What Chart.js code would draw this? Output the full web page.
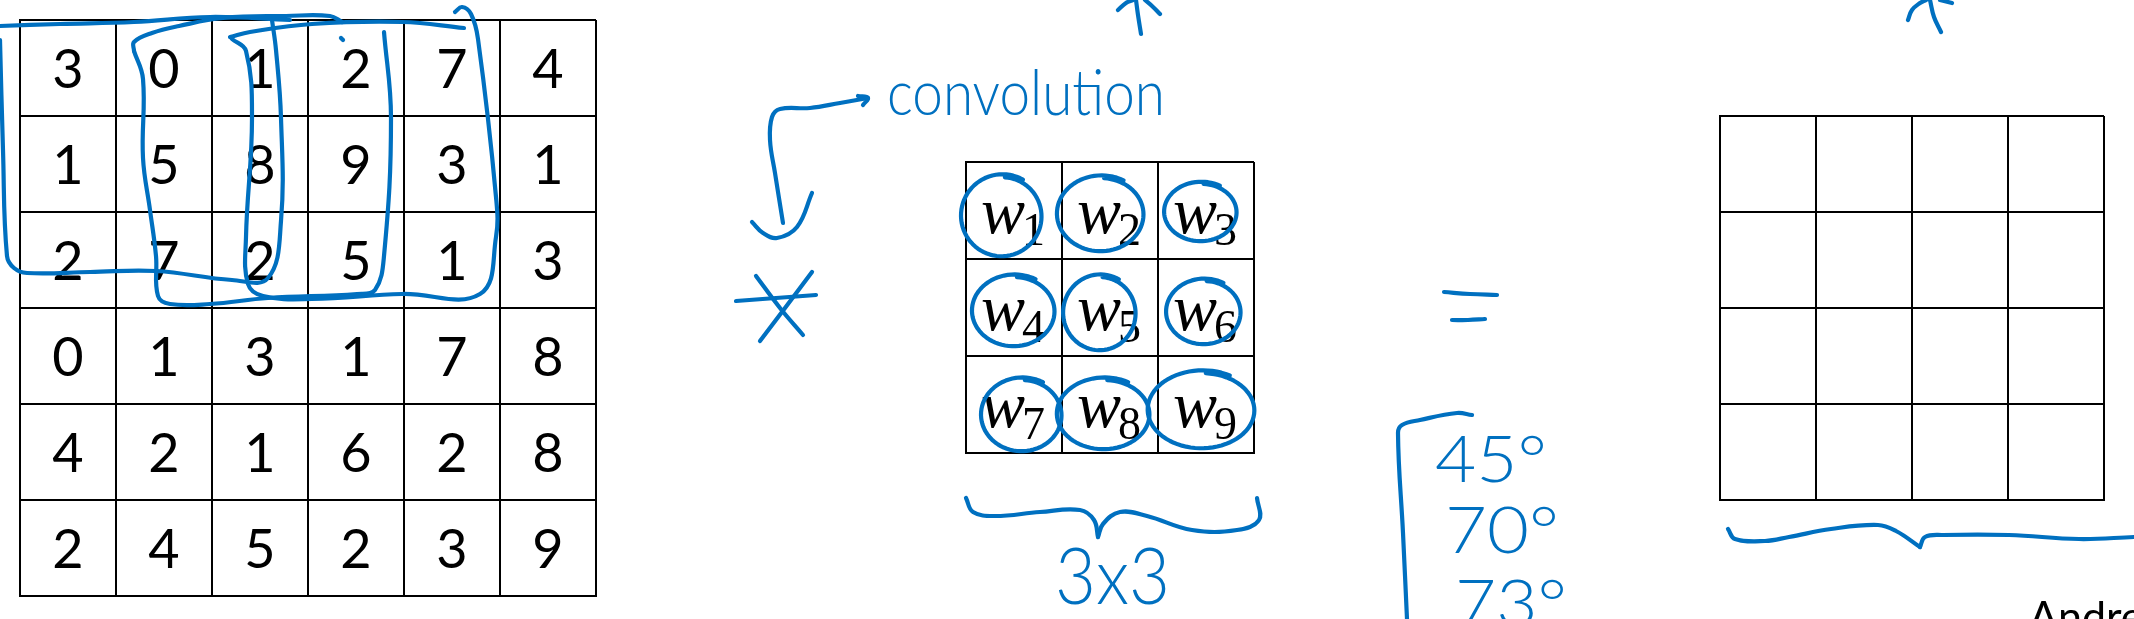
<!DOCTYPE html>
<html>
<head>
<meta charset="utf-8">
<title>Convolution</title>
<script src="https://cdn.jsdelivr.net/npm/chart.js@4.4.1/dist/chart.umd.min.js"></script>
<style>
  html, body { margin: 0; padding: 0; background: #fff; }
  #page { position: relative; width: 2134px; height: 619px; overflow: hidden; background: #fff; }
  .box { position: absolute; }
  .box canvas { display: block; }
</style>
</head>
<body>
<div id="page">
  <div class="box" id="inputBox"><canvas id="inputGrid"></canvas></div>
  <div class="box" id="filterBox"><canvas id="filterGrid"></canvas></div>
  <div class="box" id="outputBox"><canvas id="outputGrid"></canvas></div>
  <div class="box" id="inkBox"><canvas id="ink"></canvas></div>
</div>
<script>
// 6x6 input image
const inputValues = [
  [3, 0, 1, 2, 7, 4],
  [1, 5, 8, 9, 3, 1],
  [2, 7, 2, 5, 1, 3],
  [0, 1, 3, 1, 7, 8],
  [4, 2, 1, 6, 2, 8],
  [2, 4, 5, 2, 3, 9]
];

// 3x3 filter: w1 .. w9
const filterSymbol = 'w';
const filterSubscripts = ['1', '2', '3', '4', '5', '6', '7', '8', '9'];

// 4x4 output, left empty
const outputRows = 4;
const outputCols = 4;

// pen strokes, in page pixels
const box1Top    = [[0,26],[60,24],[134,22],[210,17],[290,20]];
const box1Side   = [[0,40],[3,150],[7,256],[14,268],[27,273],[90,272],[156,271],[232,280],[268,278],[281,221],[281,118],[276,50],[272,20]];
const box2Top    = [[134,51],[134,42],[152,33],[179,26],[223,18],[286,16],[330,16],[342,22]];
const box2Side   = [[134,51],[143,79],[143,158],[150,210],[156,256],[158,296],[170,304],[210,304],[268,298],[357,294],[375,290],[384,256],[391,118],[384,32]];
const box3Top    = [[230,37],[250,32],[312,24],[402,22],[464,28]];
const box3Side   = [[232,39],[246,51],[252,118],[246,237],[248,284],[263,296],[312,299],[402,294],[480,294],[496,237],[496,197],[478,39],[471,14],[462,7],[455,12]];
const penDot     = [[341,38],[343,40]];
const convArrow  = [[868,98],[840,103],[810,108],[780,109],[772,117],[770,140],[775,173],[783,223]];
const convHead   = [[858,96],[868,98],[863,105]];
const convHook   = [[752,222],[763,233],[777,238],[797,227],[812,193]];
const starA      = [[756,276],[780,308],[803,335]];
const starB      = [[812,272],[785,308],[760,341]];
const starC      = [[736,301],[776,298],[816,295]];
const upStem1    = [[1141,34],[1138,15],[1136,0]];
const upHead1L   = [[1118,10],[1126,3],[1133,0]];
const upHead1R   = [[1145,0],[1152,6],[1160,14]];
const upStem2    = [[1941,32],[1934,17],[1930,0]];
const upHead2L   = [[1908,20],[1912,10],[1920,3],[1926,0]];
const upHead2R   = [[1940,0],[1952,3]];
const equalsTop  = [[1444,292],[1470,294],[1497,295]];
const equalsBot  = [[1452,320],[1468,320],[1485,319]];
const tempBracket = [[1472,415],[1457,413],[1420,420],[1402,425],[1398,433],[1403,533],[1407,619]];
const braceFilterL = [[966,498],[973,512],[995,516],[1040,512],[1080,510],[1094,520],[1098,537]];
const braceFilterR = [[1098,537],[1103,524],[1120,512],[1147,516],[1192,530],[1237,530],[1259,520],[1257,498]];
const braceOutL  = [[1728,529],[1735,539],[1765,541],[1789,537],[1831,529],[1878,525],[1896,531],[1920,547]];
const braceOutR  = [[1920,547],[1925,537],[1943,535],[2009,535],[2079,539],[2134,537]];

const inkStrokes = [box1Top, box1Side, box2Top, box2Side, box3Top, box3Side, penDot,
  convArrow, convHead, convHook, starA, starB, starC,
  upStem1, upHead1L, upHead1R, upStem2, upHead2L, upHead2R,
  equalsTop, equalsBot, tempBracket, braceFilterL, braceFilterR, braceOutL, braceOutR];

// circles round each weight: centre x, centre y, radius x, radius y
const circleX  = [1002, 1101, 1201, 1014, 1100, 1204, 1022, 1104, 1202];
const circleY  = [216, 214, 212, 311, 313, 312, 415, 414, 410];
const circleRx = [40, 43, 36, 41, 36, 37, 40, 46, 53];
const circleRy = [40, 37, 29, 35, 37, 32, 36, 35, 38];

// handwritten words
const noteTexts = ['convolution', '3x3', '45°', '70°', '73°'];
const noteX     = [887, 1055, 1435, 1445, 1455];
const noteY     = [115, 604, 482, 553, 626];
const noteWidth = [278, 115, 112, 114, 112];
const noteSize  = [64, 78, 66, 66, 66];

const INK = '#0070C0';
const PEN = 4.2;

function sizeBox(boxId, canvasId, left, top, w, h) {
  const box = document.getElementById(boxId);
  box.style.left = left + 'px';
  box.style.top = top + 'px';
  const cv = document.getElementById(canvasId);
  cv.width = w; cv.height = h;
  cv.style.width = w + 'px'; cv.style.height = h + 'px';
  return cv;
}

const cellTextPlugin = {
  id: 'cellText',
  afterDatasetsDraw(chart) {
    const ctx = chart.ctx;
    chart.data.datasets.forEach((ds, i) => {
      if (!ds.drawCell) return;
      const meta = chart.getDatasetMeta(i);
      meta.data.forEach((pt, j) => {
        ctx.save();
        ds.drawCell(ctx, pt.x, pt.y, j);
        ctx.restore();
      });
    });
  }
};

function gridScale(max, reverse) {
  return {
    type: 'linear', min: 0, max: max, reverse: reverse,
    ticks: { display: false, stepSize: 1 },
    grid: { color: '#000', lineWidth: 2, drawTicks: false },
    border: { display: true, color: '#000', width: 2 }
  };
}

function makeGrid(canvas, rows, cols, pad, dataset) {
  return new Chart(canvas, {
    type: 'scatter',
    data: { datasets: [dataset] },
    options: {
      responsive: false,
      animation: false,
      events: [],
      layout: { padding: pad },
      plugins: { legend: { display: false }, tooltip: { enabled: false } },
      scales: { x: gridScale(cols, false), y: gridScale(rows, true) }
    },
    plugins: [cellTextPlugin]
  });
}

function cellCentres(rows, cols) {
  const pts = [];
  for (let r = 0; r < rows; r++)
    for (let c = 0; c < cols; c++) pts.push({ x: c + 0.5, y: r + 0.5 });
  return pts;
}

function main() {
  const pad = 6;

  // input image
  const inCv = sizeBox('inputBox', 'inputGrid', 20 - pad, 20 - pad, 576 + 2 * pad, 576 + 2 * pad);
  const flatInput = inputValues.flat();
  makeGrid(inCv, 6, 6, pad, {
    data: cellCentres(6, 6),
    pointRadius: 0,
    drawCell(ctx, x, y, j) {
      ctx.fillStyle = '#000';
      ctx.font = '54px Lato';
      ctx.textAlign = 'center';
      ctx.textBaseline = 'alphabetic';
      ctx.fillText(String(flatInput[j]), x, y + 20);
    }
  });

  // filter
  const fCv = sizeBox('filterBox', 'filterGrid', 966 - pad, 162 - pad, 288 + 2 * pad, 291 + 2 * pad);
  makeGrid(fCv, 3, 3, pad, {
    data: cellCentres(3, 3),
    pointRadius: 0,
    drawCell(ctx, x, y, j) {
      ctx.fillStyle = '#000';
      ctx.textBaseline = 'alphabetic';
      ctx.textAlign = 'left';
      const wFont = 'italic 66px "Liberation Serif"';
      const sFont = '46px "Liberation Serif"';
      ctx.font = wFont;
      const wW = ctx.measureText(filterSymbol).width;
      ctx.font = sFont;
      const sW = ctx.measureText(filterSubscripts[j]).width;
      const start = x - (wW + sW - 3) / 2 - 1;
      ctx.font = wFont;
      ctx.fillText(filterSymbol, start, y + 22);
      ctx.font = sFont;
      ctx.fillText(filterSubscripts[j], start + wW - 3, y + 34);
    }
  });

  // output, empty cells
  const oCv = sizeBox('outputBox', 'outputGrid', 1720 - pad, 116 - pad, 384 + 2 * pad, 384 + 2 * pad);
  makeGrid(oCv, outputRows, outputCols, pad, {
    data: cellCentres(outputRows, outputCols),
    pointRadius: 0
  });

  // pen annotations over everything
  const inkCv = sizeBox('inkBox', 'ink', 0, 0, 2134, 619);
  const strokeSets = inkStrokes.map(s => ({
    data: s.map(p => ({ x: p[0], y: p[1] })),
    showLine: true,
    borderColor: INK,
    borderWidth: PEN,
    borderCapStyle: 'round',
    borderJoinStyle: 'round',
    tension: 0.4,
    pointRadius: 0,
    fill: false
  }));

  const circleSet = {
    data: circleX.map((x, i) => ({ x: x, y: circleY[i] })),
    pointRadius: 0,
    penCircle: true
  };

  const noteSet = {
    data: noteX.map((x, i) => ({ x: x, y: noteY[i] })),
    pointRadius: 0,
    penNote: true
  };

  const signatureSet = {
    data: [{ x: 2029, y: 632 }],
    pointRadius: 0,
    signature: 'Andrew Ng'
  };

  const penPlugin = {
    id: 'pen',
    afterDatasetsDraw(chart) {
      const ctx = chart.ctx;
      const xs = chart.scales.x, ys = chart.scales.y;
      chart.data.datasets.forEach((ds, i) => {
        const meta = chart.getDatasetMeta(i);
        if (ds.penCircle) {
          meta.data.forEach((pt, j) => {
            const rx = xs.getPixelForValue(circleX[j] + circleRx[j]) - pt.x;
            const ry = ys.getPixelForValue(circleY[j] + circleRy[j]) - pt.y;
            ctx.save();
            ctx.strokeStyle = INK;
            ctx.lineWidth = PEN;
            ctx.lineCap = 'round';
            ctx.lineJoin = 'round';
            ctx.beginPath();
            const n = 80, t0 = -Math.PI / 3, sweep = 2 * Math.PI + 0.45;
            for (let k = 0; k <= n; k++) {
              const t = t0 - sweep * k / n;
              const g = 1.05 - 0.08 * k / n;
              const px = pt.x + rx * g * Math.cos(t);
              const py = pt.y + ry * g * Math.sin(t);
              if (k === 0) ctx.moveTo(px, py); else ctx.lineTo(px, py);
            }
            ctx.stroke();
            ctx.restore();
          });
        }
        if (ds.penNote) {
          meta.data.forEach((pt, j) => {
            ctx.save();
            ctx.fillStyle = INK;
            ctx.font = '300 ' + noteSize[j] + 'px Lato';
            ctx.textAlign = 'left';
            ctx.textBaseline = 'alphabetic';
            const w = ctx.measureText(noteTexts[j]).width;
            ctx.translate(pt.x, pt.y);
            ctx.scale(noteWidth[j] / w, 1);
            ctx.fillText(noteTexts[j], 0, 0);
            ctx.restore();
          });
        }
        if (ds.signature) {
          const pt = meta.data[0];
          ctx.save();
          ctx.fillStyle = '#000';
          ctx.font = '43px Lato';
          ctx.textAlign = 'left';
          ctx.textBaseline = 'alphabetic';
          ctx.fillText(ds.signature, pt.x, pt.y);
          ctx.restore();
        }
      });
    }
  };

  new Chart(inkCv, {
    type: 'scatter',
    data: { datasets: strokeSets.concat([circleSet, noteSet, signatureSet]) },
    options: {
      responsive: false,
      animation: false,
      events: [],
      layout: { padding: 0 },
      plugins: { legend: { display: false }, tooltip: { enabled: false } },
      scales: {
        x: { type: 'linear', display: false, min: 0, max: 2134 },
        y: { type: 'linear', display: false, min: 0, max: 619, reverse: true }
      }
    },
    plugins: [penPlugin]
  });
}

Promise.all([
  document.fonts.load('54px Lato'),
  document.fonts.load('300 64px Lato'),
  document.fonts.load('italic 66px "Liberation Serif"'),
  document.fonts.load('46px "Liberation Serif"')
]).then(main, main);
</script>
</body>
</html>
